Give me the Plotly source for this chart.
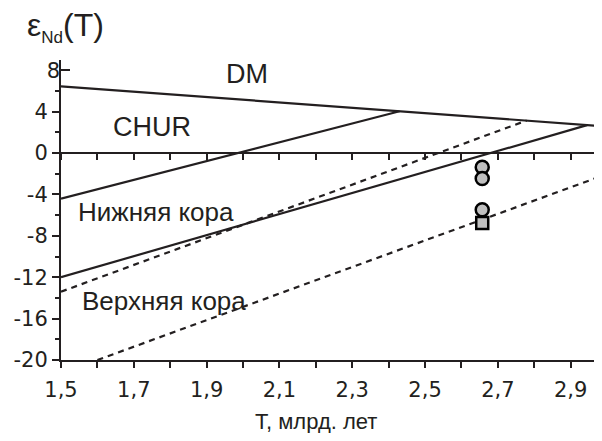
import plotly.graph_objects as go

# ---- data ----
dm_T = [1.5, 2.986]
dm_eps = [6.46, 2.6]

lower_crust1_T = [1.5, 2.43]
lower_crust1_eps = [-4.4, 4.05]

lower_crust2_T = [1.5, 2.945]
lower_crust2_eps = [-12.0, 2.7]

upper_crust1_T = [1.5, 2.779]
upper_crust1_eps = [-13.4, 3.15]

upper_crust2_T = [1.6, 2.986]
upper_crust2_eps = [-20.0, -2.2]

circle_T = [2.657, 2.657, 2.657]
circle_eps = [-1.37, -2.45, -5.47]

square_T = [2.657]
square_eps = [-6.75]

x_major = [1.5, 1.7, 1.9, 2.1, 2.3, 2.5, 2.7, 2.9]
x_major_text = ["1,5", "1,7", "1,9", "2,1", "2,3", "2,5", "2,7", "2,9"]
x_minor = [1.6, 1.8, 2.0, 2.2, 2.4, 2.6, 2.8]
x_all = [1.5, 1.6, 1.7, 1.8, 1.9, 2.0, 2.1, 2.2, 2.3, 2.4, 2.5, 2.6, 2.7, 2.8, 2.9]

y_major_out = [-20, -16, -12, -8, -4, 0, 4]
y_major_out_text = ["-20", "-16", "-12", "-8", "-4", "0", "4"]
y_major_in = [8]
y_major_in_text = ["8"]
y_minor = [-18, -14, -10, -6, -2, 2, 6]

x_range = [1.5, 2.964]
y_range = [-20, 9]

INK = "#231f20"
FONT = "Liberation Sans, Arial, sans-serif"
TICKFONT = "DejaVu Sans, Liberation Sans, sans-serif"

# the page body adds an 8px margin; compensate so the plot lands where the reference has it
PAGE_PAD = 8

fig = go.Figure()

line_style = dict(color=INK, width=2.2)
dash_style = dict(color=INK, width=2.2, dash="6px,5px")

fig.add_trace(go.Scatter(x=dm_T, y=dm_eps, mode="lines", line=line_style, hoverinfo="skip"))
fig.add_trace(go.Scatter(x=lower_crust1_T, y=lower_crust1_eps, mode="lines", line=line_style, hoverinfo="skip"))
fig.add_trace(go.Scatter(x=lower_crust2_T, y=lower_crust2_eps, mode="lines", line=line_style, hoverinfo="skip"))
fig.add_trace(go.Scatter(x=upper_crust1_T, y=upper_crust1_eps, mode="lines", line=dash_style, hoverinfo="skip"))
fig.add_trace(go.Scatter(x=upper_crust2_T, y=upper_crust2_eps, mode="lines", line=dash_style, hoverinfo="skip"))

fig.add_trace(go.Scatter(x=square_T, y=square_eps, mode="markers",
                         marker=dict(symbol="square", size=12, color="#c0c0c0",
                                     line=dict(color="black", width=2.5)), hoverinfo="skip"))
fig.add_trace(go.Scatter(x=circle_T, y=circle_eps, mode="markers",
                         marker=dict(symbol="circle", size=13, color="#c0c0c0",
                                     line=dict(color="black", width=2.5)), hoverinfo="skip"))

# helper traces so overlay axes are drawn
fig.add_trace(go.Scatter(x=[1.5], y=[0], xaxis="x2", yaxis="y", mode="markers",
                         marker=dict(opacity=0), showlegend=False, hoverinfo="skip"))
fig.add_trace(go.Scatter(x=[1.5], y=[0], xaxis="x", yaxis="y2", mode="markers",
                         marker=dict(opacity=0), showlegend=False, hoverinfo="skip"))

tickfont = dict(family=TICKFONT, size=21, color=INK)

fig.update_layout(
    width=602 - 2 * PAGE_PAD, height=441 - 2 * PAGE_PAD,
    margin=dict(l=61 - PAGE_PAD, r=0, t=60 - PAGE_PAD, b=441 - PAGE_PAD - 360, pad=0),
    paper_bgcolor="white", plot_bgcolor="white",
    showlegend=False,
    xaxis=dict(range=x_range, tickmode="array", tickvals=x_major, ticktext=x_major_text,
               ticks="outside", ticklen=6, tickwidth=2, tickcolor=INK, ticklabelstandoff=4,
               minor=dict(tickmode="array", tickvals=x_minor, ticks="outside", ticklen=6, tickwidth=2, tickcolor=INK, showgrid=False),
               showline=True, linecolor=INK, linewidth=2, showgrid=False, zeroline=False,
               tickfont=tickfont, fixedrange=True),
    xaxis2=dict(range=x_range, overlaying="x", anchor="free",
                position=(0 - y_range[0]) / (y_range[1] - y_range[0]),
                side="bottom", tickmode="array", tickvals=x_all, showticklabels=False,
                ticks="outside", ticklen=6, tickwidth=2, tickcolor=INK,
                showline=True, linecolor=INK, linewidth=2, showgrid=False, zeroline=False),
    yaxis=dict(range=y_range, tickmode="array", tickvals=y_major_out, ticktext=y_major_out_text,
               ticks="outside", ticklen=7, tickwidth=2, tickcolor=INK,
               minor=dict(tickmode="array", tickvals=y_minor, ticks="outside", ticklen=4, tickwidth=2, tickcolor=INK, showgrid=False),
               showline=True, linecolor=INK, linewidth=2, showgrid=False, zeroline=False,
               tickfont=tickfont, fixedrange=True),
    yaxis2=dict(range=y_range, overlaying="y", side="left", anchor="x",
                tickmode="array", tickvals=y_major_in, ticktext=y_major_in_text,
                ticks="inside", ticklen=9, tickwidth=2, tickcolor=INK,
                showline=False, showgrid=False, zeroline=False, tickfont=tickfont),
)

ann_font_big = dict(family=FONT, size=27, color=INK)
ann_font_ru = dict(family=FONT, size=26, color=INK)

fig.add_annotation(x=2.011, y=7.66, text="DM", showarrow=False, font=ann_font_big, xanchor="center", yanchor="middle")
fig.add_annotation(x=1.749, y=2.53, text="CHUR", showarrow=False, font=ann_font_big, xanchor="center", yanchor="middle")
fig.add_annotation(x=1.761, y=-5.73, text="Нижняя кора", showarrow=False, font=ann_font_ru, xanchor="center", yanchor="middle")
fig.add_annotation(x=1.783, y=-14.25, text="Верхняя кора", showarrow=False, font=ann_font_ru, xanchor="center", yanchor="middle")

plot_w = 541 - 8
fig.add_annotation(xref="paper", yref="paper", x=(25 - 61) / plot_w, y=(360 - 27) / 300,
                   text="ε<sub><span style='font-size:17px'>Nd</span></sub>(T)", showarrow=False,
                   font=dict(family=FONT, size=32, color=INK), xanchor="left", yanchor="middle")
fig.add_annotation(xref="paper", yref="paper", x=(316 - 61) / plot_w, y=(360 - 421) / 300,
                   text="T, млрд. лет", showarrow=False,
                   font=dict(family=FONT, size=22, color=INK), xanchor="center", yanchor="middle")

fig.write_html("out.html")
